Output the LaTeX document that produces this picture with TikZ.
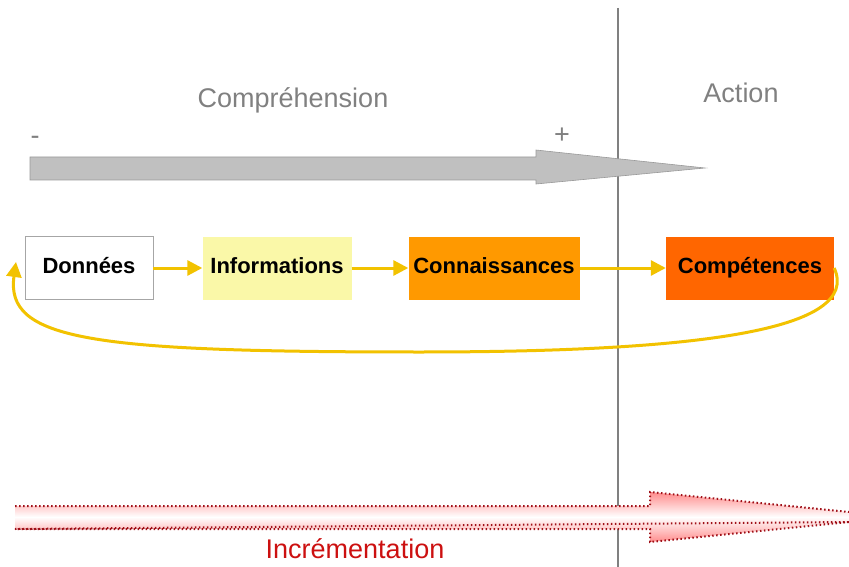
\documentclass[tikz,border=0pt]{standalone}
\usepackage{fontspec}
\setmainfont{Liberation Sans}
\usetikzlibrary{arrows.meta}

\definecolor{gris}{HTML}{808080}
\definecolor{grisclair}{HTML}{C0C0C0}
\definecolor{jaune}{HTML}{F2C200}
\definecolor{jaunepale}{HTML}{FAF8A8}
\definecolor{orange1}{HTML}{FF9900}
\definecolor{orange2}{HTML}{FF6600}
\definecolor{rouge}{HTML}{CC1010}
\definecolor{rougefonce}{HTML}{A01018}

\tikzset{
  etape/.style={minimum width=#1, minimum height=63pt, inner sep=0pt,
    text height=15pt, text depth=4pt,
    font=\fontsize{22}{26}\selectfont\bfseries},
  fleche/.style={draw=jaune, line width=3pt, -{Triangle[width=15pt,length=15pt]}},
  titre/.style={font=\fontsize{27}{32}\selectfont}
}

\begin{document}
\begin{tikzpicture}[x=1pt,y=-1pt]
			\useasboundingbox (0,0) rectangle (849,567);
			
			% separation
			\draw[gris, line width=1.2pt] (618,8) -- (618,567);
			
			\begin{scope}[every node/.style={titre, text=gris}]
				\node (compr) at (293,100) {Compréhension};
				\node (act) at (741,93) {Action};
				\node (moins) at (35,140) {-};
				\node (plus) at (562,136) {+};
			\end{scope}
			
			% fleche grise
			\draw[fill=grisclair, draw=gris!80, line width=0.6pt]
				(30,157) -- (536,157) -- (536,150) -- (705,168) -- (536,184) -- (536,180) -- (30,180) -- cycle;
			
			\begin{scope}
				\node[etape=128pt, draw=gris!70, fill=white] (don) at (89,268) {Données};
				\node[etape=149pt, fill=jaunepale] (info) at (277,268) {Informations};
				\node[etape=171pt, fill=orange1] (conn) at (494,268) {Connaissances};
				\node[etape=168pt, fill=orange2] (comp) at (750,268) {Compétences};
				\coordinate (retour) at (16,262);
			\end{scope}
			
			\begin{scope}
				\path (don) edge[fleche] (info);
				\path (info) edge[fleche] (conn);
				\path (conn) edge[fleche] (comp);
				\draw[fleche]
					(comp.east) .. controls (862,330) and (700,352) .. (420,352)
					.. controls (90,352) and (5,340) .. (retour);
			\end{scope}
			
			% fleche rouge
			\shade[top color=red!45, bottom color=red!45, middle color=white]
				(15,506) -- (650,506) -- (650,492) -- (849,512) -- (849,522) -- (650,542) -- (650,529) -- (15,529) -- cycle;
			\draw[rougefonce, line width=2pt, dash pattern=on 1.5pt off 2.5pt]
				(15,506) -- (650,506) -- (650,492) -- (849,512) (849,522) -- (650,542) -- (650,529) -- (15,529) -- cycle;
			
			\node[titre, text=rouge] (incr) at (355,549) {Incrémentation};
		\end{tikzpicture}
\end{document}
